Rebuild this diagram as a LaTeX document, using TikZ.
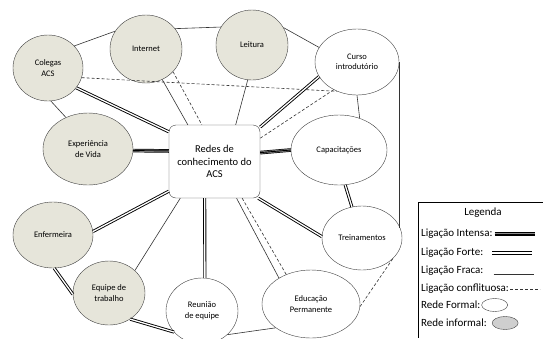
\documentclass[tikz,border=0pt]{standalone}
\usepackage{fontspec}
\setmainfont{Carlito}
\usetikzlibrary{shapes.geometric,positioning}
\definecolor{cinza}{HTML}{E6E5DA}
\definecolor{cinzaleg}{HTML}{CFCFCF}
\tikzset{
  rede/.style={draw=black!75, ellipse, inner sep=0pt, align=center, font=\fontsize{8.5}{10.5}\selectfont},
  informal/.style={rede, fill=cinza},
  fraca/.style={line width=0.6pt, black!80},
  conflito/.style={line width=0.6pt, black!80, dash pattern=on 3pt off 2pt},
  forte/.style={double, double distance=1.3pt, line width=0.9pt},
  intensa/.style={line width=3.6pt, postaction={draw=white!55!black, line width=2.2pt}, postaction={draw=black, line width=0.9pt}},
  leg/.style={inner sep=0pt, font=\fontsize{11}{13}\selectfont},
}
\begin{document}
\begin{tikzpicture}[x=1pt, y=-1pt]
    \useasboundingbox (0,0) rectangle (543,338);
    % redes
    \node[informal, minimum width=70pt, minimum height=66pt] (colegas) at (48,68) {Colegas\\ACS};
    \node[informal, minimum width=72pt, minimum height=68pt] (internet) at (146,49) {Internet};
    \node[informal, minimum width=72pt, minimum height=70pt] (leitura) at (252,45) {Leitura};
    \node[rede, minimum width=84pt, minimum height=66pt] (curso) at (357,62) {Curso\\introdutório};
    \node[informal, minimum width=90pt, minimum height=72pt] (exper) at (88,149) {Experiência\\de Vida};
    \node[rede, minimum width=96pt, minimum height=70pt] (capac) at (339,150) {Capacitações};
    \node[rede, minimum width=80pt, minimum height=64pt] (trein) at (362,238) {Treinamentos};
    \node[informal, minimum width=80pt, minimum height=66pt] (enferm) at (53,235) {Enfermeira};
    \node[informal, minimum width=72pt, minimum height=64pt] (equipe) at (109,293) {Equipe de\\trabalho};
    \node[rede, minimum width=72pt, minimum height=66pt] (reuniao) at (202,311) {Reunião\\de equipe};
    \node[rede, minimum width=98pt, minimum height=68pt] (educ) at (311,304) {Educação\\Permanente};
    \node[draw=black!75, rounded corners=7pt, minimum width=91pt, minimum height=73pt, align=center,
          font=\fontsize{10.5}{12.5}\selectfont] (redes) at (214.5,161.5) {Redes de\\conhecimento do\\ACS};
    % ligacoes
    \foreach \a/\b in {colegas.40/internet.150, internet.35/leitura.150, leitura.29/curso.159,
                       colegas.-85/exper.125, internet.-62/redes.126, leitura.-97/redes.60,
                       curso.-90/capac.57, redes.-59/educ.141, redes.-133/equipe.41, reuniao.-43/educ.-146}
        \draw[fraca] (\a) -- (\b);
    \draw[fraca] (curso.east) -- (curso.east |- trein.14);
    \foreach \a/\b in {colegas.-16/curso.-124, internet.-40/redes.109, curso.-130/redes.27,
                       redes.-53/educ.130, trein.-34/educ.-3}
        \draw[conflito] (\a) -- (\b);
    \foreach \a/\b in {colegas.-35/redes.147, curso.-159/redes.37, capac.-80/trein.108,
                       redes.-40/trein.178, redes.-105/reuniao.85, redes.-147/enferm.5,
                       enferm.-88/equipe.182, equipe.-51/reuniao.-143}
        \draw[forte] (\a) -- (\b);
    \foreach \a/\b in {exper.-2/redes.167, redes.11/capac.180}
        \draw[intensa] (\a) -- (\b);
    % legenda
    \fill[white] (418,202) rectangle (543,338);
    \draw[line width=0.8pt] (543,202) -- (418,202) -- (418,338);
    \node[leg] (legenda) at (483,213) {Legenda};
    \node[leg, anchor=west] (lint) at (421,234) {Ligação Intensa:};
    \node[leg, anchor=west] (lfor) at (421,253) {Ligação Forte:};
    \node[leg, anchor=west] (lfra) at (421,271) {Ligação Fraca:};
    \node[leg, anchor=west] (lcon) at (421,289) {Ligação conflituosa:};
    \node[leg, anchor=west] (lrf) at (421,305) {Rede Formal:};
    \node[leg, anchor=west] (lri) at (421,323) {Rede informal:};
    \draw[intensa] (lint.east) ++(2,0) -- ++(40,0);
    \draw[forte] (lfor.east) ++(9,0) -- ++(40,0);
    \draw[fraca] (lfra.base east) ++(10,0) -- ++(40,0);
    \draw[conflito] (lcon.east) ++(1,0) -- ++(30,0);
    \node[draw=black!75, ellipse, minimum width=26pt, minimum height=13pt, right=1pt of lrf] (formal) {};
    \node[draw=black!75, fill=cinzaleg, ellipse, minimum width=26pt, minimum height=13pt, right=5pt of lri] (inf) {};
\end{tikzpicture}
\end{document}
